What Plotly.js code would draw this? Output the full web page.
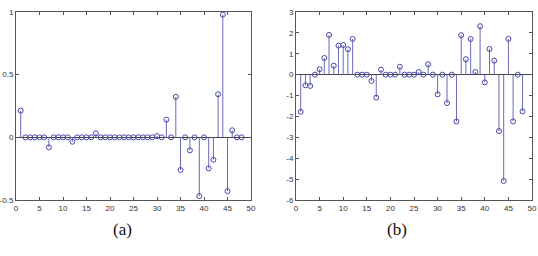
<!DOCTYPE html>
<html>
<head>
<meta charset="utf-8">
<script src="https://cdn.plot.ly/plotly-3.0.1.min.js"></script>
<style>html,body{margin:0;padding:0;background:#fff;}#chart{width:538px;height:256px;}</style>
</head>
<body>
<div id="chart"></div>
<script>
// Data
const indexA = Array.from({length: 48}, (_, i) => i + 1);
const valuesA = [0.213, 0, 0, 0, 0, 0, -0.08, 0, 0, 0,
                 0, -0.035, 0, 0, 0, 0, 0.032, 0, 0, 0,
                 0, 0, 0, 0, 0, 0, 0, 0, 0, 0.01,
                 0, 0.141, 0, 0.323, -0.261, 0, -0.104, 0, -0.469, 0,
                 -0.248, -0.179, 0.344, 0.979, -0.429, 0.056, 0, 0];
const indexB = Array.from({length: 48}, (_, i) => i + 1);
const valuesB = [-1.78, -0.51, -0.54, 0, 0.26, 0.8, 1.9, 0.43, 1.39, 1.42,
                 1.22, 1.71, 0, 0, 0, -0.3, -1.1, 0.24, 0, 0,
                 0, 0.38, 0, 0, 0, 0.13, 0, 0.5, 0, -0.94,
                 0, -1.36, 0, -2.24, 1.89, 0.74, 1.71, 0.13, 2.32, -0.37,
                 1.23, 0.67, -2.7, -5.09, 1.71, -2.24, 0, -1.76];
const xTicks = [0, 5, 10, 15, 20, 25, 30, 35, 40, 45, 50];
const yTicksA = [-0.5, 0, 0.5, 1];
const yTickTextA = ['-0.5', '0', '0.5', '1'];
const yTicksB = [-6, -5, -4, -3, -2, -1, 0, 1, 2, 3];
const yTickTextB = ['-6', '-5', '-4', '-3', '-2', '-1', '0', '1', '2', '3'];
const panelLabels = ['(a)', '(b)'];

const stemColor = '#6a6ab8';
const markColor = '#4848a8';

function stems(xs, ys, xa, ya) {
  const sx = [], sy = [];
  xs.forEach((x, i) => { sx.push(x, x, null); sy.push(0, ys[i], null); });
  return [
    {x: sx, y: sy, mode: 'lines', type: 'scatter', xaxis: xa, yaxis: ya,
     line: {color: stemColor, width: 1}, hoverinfo: 'skip', showlegend: false},
    {x: xs, y: ys, mode: 'markers', type: 'scatter', xaxis: xa, yaxis: ya,
     marker: {symbol: 'circle-open', size: 5, color: markColor, line: {width: 1, color: markColor}},
     showlegend: false}
  ];
}

const data = [...stems(indexA, valuesA, 'x', 'y'), ...stems(indexB, valuesB, 'x2', 'y2')];

const axisCommon = {
  showgrid: false, showline: true, linecolor: '#555', linewidth: 1, mirror: 'ticks',
  ticks: 'inside', ticklen: 3, tickcolor: '#555', tickwidth: 1,
  tickfont: {family: 'Liberation Sans, Arial, sans-serif', size: 8, color: '#333'},
  zeroline: false
};

const yDom = [1 - 200/256, 1 - 12/256];
const labelFont = {family: 'Liberation Serif, Times New Roman, serif', size: 17, color: '#111'};
const layout = {
  width: 538, height: 256,
  margin: {l: 0, r: 0, t: 0, b: 0},
  paper_bgcolor: '#fff', plot_bgcolor: '#fff',
  showlegend: false,
  xaxis: Object.assign({}, axisCommon, {domain: [16/538, 251/538], range: [0, 50], tickvals: xTicks, anchor: 'y'}),
  yaxis: Object.assign({}, axisCommon, {domain: yDom, range: [-0.5, 1], tickvals: yTicksA, ticktext: yTickTextA, anchor: 'x',
    zeroline: true, zerolinecolor: '#444', zerolinewidth: 1}),
  xaxis2: Object.assign({}, axisCommon, {domain: [296/538, 532/538], range: [0, 50], tickvals: xTicks, anchor: 'y2'}),
  yaxis2: Object.assign({}, axisCommon, {domain: yDom, range: [-6, 3], tickvals: yTicksB, ticktext: yTickTextB, anchor: 'x2',
    zeroline: true, zerolinecolor: '#444', zerolinewidth: 1}),
  annotations: [
    {text: panelLabels[0], xref: 'paper', yref: 'paper', x: 123/538, y: 1 - 229/256,
     xanchor: 'center', yanchor: 'middle', showarrow: false, font: labelFont},
    {text: panelLabels[1], xref: 'paper', yref: 'paper', x: 397/538, y: 1 - 229/256,
     xanchor: 'center', yanchor: 'middle', showarrow: false, font: labelFont}
  ]
};

Plotly.newPlot('chart', data, layout, {displayModeBar: false, staticPlot: true});
</script>
</body>
</html>
